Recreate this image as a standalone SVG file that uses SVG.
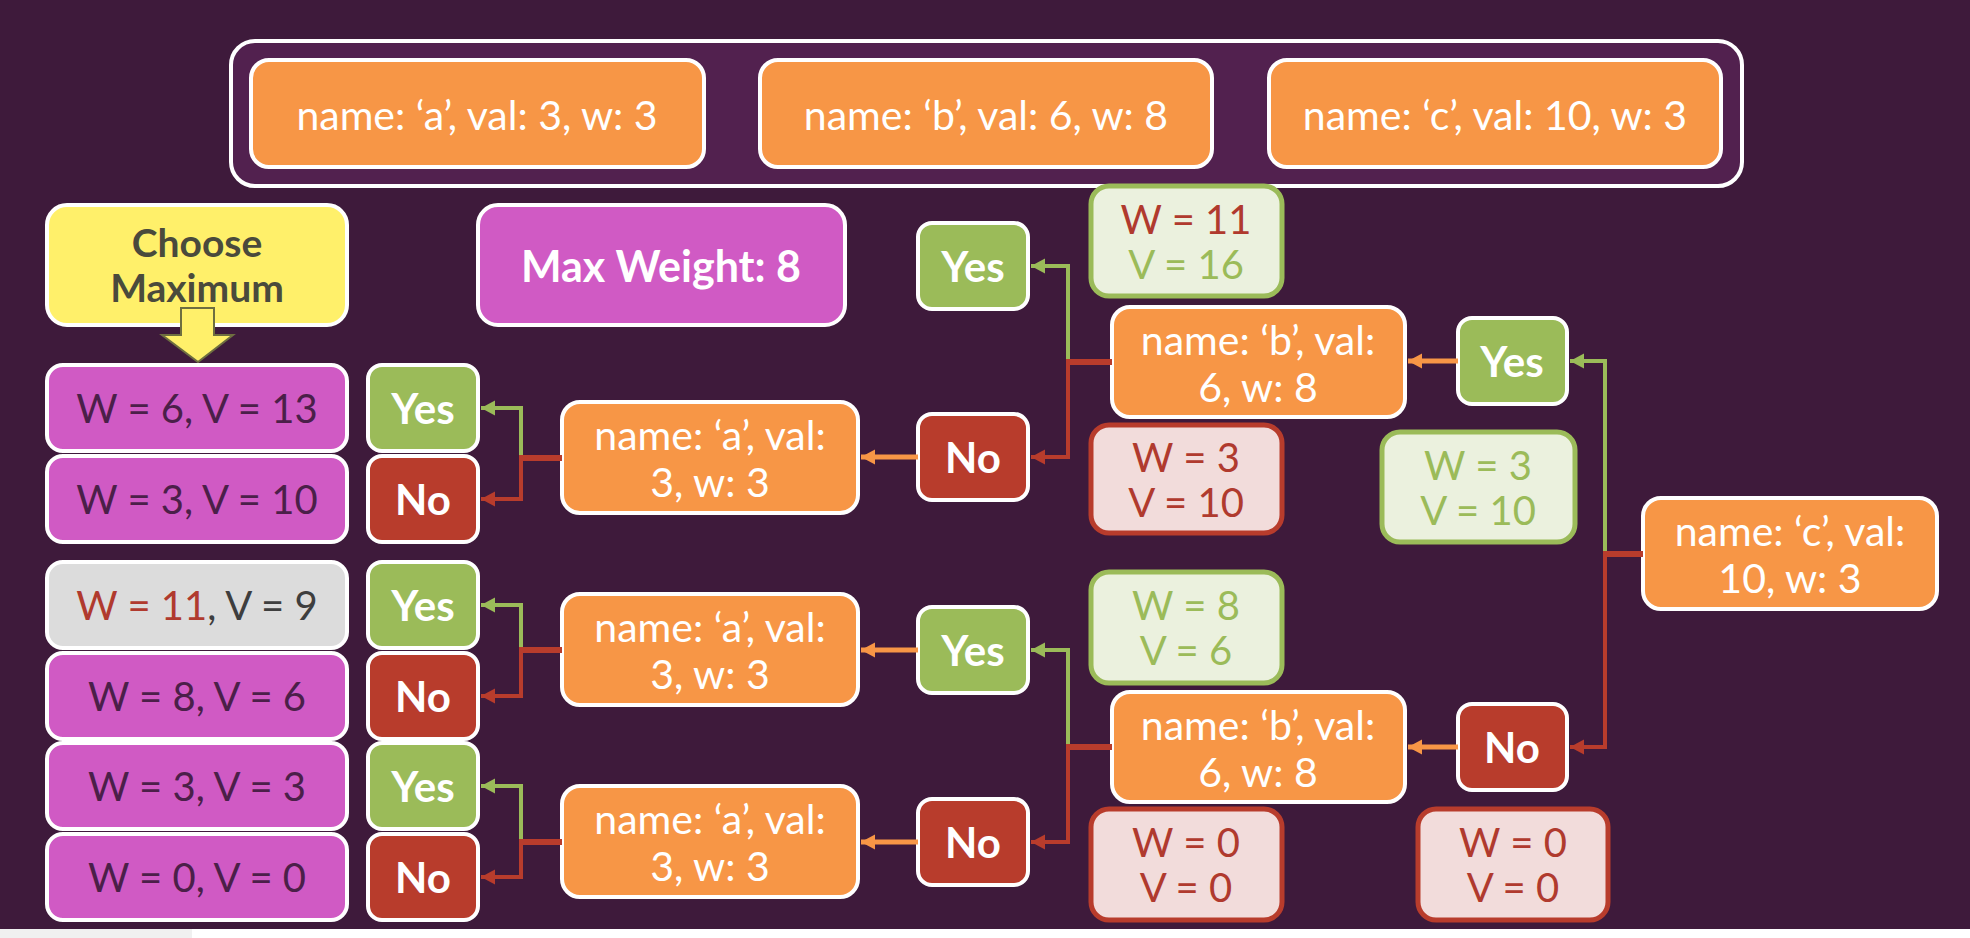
<svg xmlns="http://www.w3.org/2000/svg" width="1970" height="938" viewBox="0 0 1970 938">
<defs>
<style>
.bg{fill:#3e1a3b}
.box{stroke:#ffffff;stroke-width:4}
.orange{fill:#f79646}
.mag{fill:#d05ac4}
.gray{fill:#dcdcdc}
.yes{fill:#9bbb59}
.no{fill:#b83c2c}
.lg{fill:#ebf1de;stroke:#9bbb59;stroke-width:5}
.lr{fill:#f2dcdb;stroke:#b83c2c;stroke-width:5}
text{font-family:Lato,"Liberation Sans",sans-serif;text-anchor:middle;dominant-baseline:central}
.t{fill:#ffffff;font-size:41px}
.tb{fill:#ffffff;font-size:42px;font-weight:bold}
.tm{fill:#4b1f49;font-size:40px}
.tr{fill:#b03a2e;font-size:40px}
.tg{fill:#9bbb59;font-size:40px}
.cg{fill:none;stroke:#9bbb59;stroke-width:4}
.cr{fill:none;stroke:#b83c2c;stroke-width:4}
.cs{fill:none;stroke:#b83c2c;stroke-width:6}
.co{fill:none;stroke:#f79646;stroke-width:5}
</style>
<marker id="ag" markerUnits="userSpaceOnUse" markerWidth="16" markerHeight="16" refX="14" refY="8" orient="auto"><path d="M0,0.5 L14,8 L0,15.5 z" fill="#9bbb59"/></marker>
<marker id="ar" markerUnits="userSpaceOnUse" markerWidth="16" markerHeight="16" refX="14" refY="8" orient="auto"><path d="M0,0.5 L14,8 L0,15.5 z" fill="#b83c2c"/></marker>
<marker id="ao" markerUnits="userSpaceOnUse" markerWidth="16" markerHeight="16" refX="14" refY="8" orient="auto"><path d="M0,0.5 L14,8 L0,15.5 z" fill="#f79646"/></marker>
</defs>
<rect class="bg" x="0" y="0" width="1970" height="938"/>
<rect x="0" y="929" width="1970" height="9" fill="#ffffff"/>
<rect x="0" y="929" width="192" height="9" fill="#f0f0f0"/>

<g id="items">
<rect x="231" y="41" width="1511" height="145" rx="24" fill="#52214f" stroke="#ffffff" stroke-width="4"/>
<g id="item-a"><rect class="box orange" x="251" y="60" width="453" height="107" rx="18"/><text class="t" x="477" y="114">name: ‘a’, val: 3, w: 3</text></g>
<g id="item-b"><rect class="box orange" x="760" y="60" width="452" height="107" rx="18"/><text class="t" x="986" y="114">name: ‘b’, val: 6, w: 8</text></g>
<g id="item-c"><rect class="box orange" x="1269" y="60" width="452" height="107" rx="18"/><text class="t" x="1495" y="114">name: ‘c’, val: 10, w: 3</text></g>
</g>

<g id="choose">
<rect class="box" x="47" y="205" width="300" height="120" rx="20" fill="#fff06a"/>
<text x="197" y="242" font-size="39" font-weight="bold" fill="#4a4a3c">Choose</text>
<text x="197" y="287" font-size="39" font-weight="bold" fill="#4a4a3c">Maximum</text>
<polygon points="181,308 214,308 214,335 233,335 198,362 162,335 181,335" fill="#fff06a" stroke="#6e6e40" stroke-width="2"/>
</g>

<g id="maxweight"><rect class="box mag" x="478" y="205" width="367" height="120" rx="20"/><text class="tb" x="661" y="265" style="font-size:43px">Max Weight: 8</text></g>

<g id="r1"><rect class="box mag" x="47" y="365" width="300" height="86" rx="16"/><text class="tm" x="197" y="408">W = 6, V = 13</text></g>
<g id="r2"><rect class="box mag" x="47" y="456" width="300" height="86" rx="16"/><text class="tm" x="197" y="499">W = 3, V = 10</text></g>
<g id="r3"><rect class="box gray" x="47" y="562" width="300" height="86" rx="16"/><text x="197" y="605" font-size="40"><tspan fill="#b03a2e">W = 11</tspan><tspan fill="#3e3e3e">, V = 9</tspan></text></g>
<g id="r4"><rect class="box mag" x="47" y="653" width="300" height="86" rx="16"/><text class="tm" x="197" y="696">W = 8, V = 6</text></g>
<g id="r5"><rect class="box mag" x="47" y="743" width="300" height="86" rx="16"/><text class="tm" x="197" y="786">W = 3, V = 3</text></g>
<g id="r6"><rect class="box mag" x="47" y="834" width="300" height="86" rx="16"/><text class="tm" x="197" y="877">W = 0, V = 0</text></g>

<g id="y1"><rect class="box yes" x="368" y="365" width="110" height="86" rx="14"/><text class="tb" x="423" y="408">Yes</text></g>
<g id="n1"><rect class="box no" x="368" y="456" width="110" height="86" rx="14"/><text class="tb" x="423" y="499">No</text></g>
<g id="y2"><rect class="box yes" x="368" y="562" width="110" height="86" rx="14"/><text class="tb" x="423" y="605">Yes</text></g>
<g id="n2"><rect class="box no" x="368" y="653" width="110" height="86" rx="14"/><text class="tb" x="423" y="696">No</text></g>
<g id="y3"><rect class="box yes" x="368" y="743" width="110" height="86" rx="14"/><text class="tb" x="423" y="786">Yes</text></g>
<g id="n3"><rect class="box no" x="368" y="834" width="110" height="86" rx="14"/><text class="tb" x="423" y="877">No</text></g>

<g id="a1"><rect class="box orange" x="562" y="402" width="296" height="111" rx="18"/><text class="t" x="710" y="434">name: ‘a’, val:</text><text class="t" x="710" y="481">3, w: 3</text></g>
<g id="a2"><rect class="box orange" x="562" y="594" width="296" height="111" rx="18"/><text class="t" x="710" y="626">name: ‘a’, val:</text><text class="t" x="710" y="673">3, w: 3</text></g>
<g id="a3"><rect class="box orange" x="562" y="786" width="296" height="111" rx="18"/><text class="t" x="710" y="818">name: ‘a’, val:</text><text class="t" x="710" y="865">3, w: 3</text></g>

<g id="my1"><rect class="box yes" x="918" y="223" width="110" height="86" rx="14"/><text class="tb" x="973" y="266">Yes</text></g>
<g id="mn1"><rect class="box no" x="918" y="414" width="110" height="86" rx="14"/><text class="tb" x="973" y="457">No</text></g>
<g id="my2"><rect class="box yes" x="918" y="607" width="110" height="86" rx="14"/><text class="tb" x="973" y="650">Yes</text></g>
<g id="mn2"><rect class="box no" x="918" y="799" width="110" height="86" rx="14"/><text class="tb" x="973" y="842">No</text></g>

<g id="b1"><rect class="box orange" x="1112" y="307" width="293" height="110" rx="18"/><text class="t" x="1258" y="339">name: ‘b’, val:</text><text class="t" x="1258" y="386">6, w: 8</text></g>
<g id="b2"><rect class="box orange" x="1112" y="692" width="293" height="110" rx="18"/><text class="t" x="1258" y="724">name: ‘b’, val:</text><text class="t" x="1258" y="771">6, w: 8</text></g>

<g id="ry"><rect class="box yes" x="1458" y="318" width="109" height="86" rx="14"/><text class="tb" x="1512" y="361">Yes</text></g>
<g id="rn"><rect class="box no" x="1458" y="704" width="109" height="86" rx="14"/><text class="tb" x="1512" y="747">No</text></g>

<g id="c"><rect class="box orange" x="1643" y="498" width="294" height="111" rx="18"/><text class="t" x="1790" y="530">name: ‘c’, val:</text><text class="t" x="1790" y="577">10, w: 3</text></g>

<g id="wv1"><rect class="lg" x="1091" y="186" width="191" height="110" rx="18"/><text class="tr" x="1186" y="219">W = 11</text><text class="tg" x="1186" y="264">V = 16</text></g>
<g id="wv2"><rect class="lr" x="1091" y="425" width="191" height="108" rx="18"/><text class="tr" x="1186" y="457">W = 3</text><text class="tr" x="1186" y="502">V = 10</text></g>
<g id="wv3"><rect class="lg" x="1382" y="432" width="193" height="110" rx="18"/><text class="tg" x="1478" y="465">W = 3</text><text class="tg" x="1478" y="510">V = 10</text></g>
<g id="wv4"><rect class="lg" x="1091" y="572" width="191" height="111" rx="18"/><text class="tg" x="1186" y="605">W = 8</text><text class="tg" x="1186" y="650">V = 6</text></g>
<g id="wv5"><rect class="lr" x="1091" y="809" width="191" height="111" rx="18"/><text class="tr" x="1186" y="842">W = 0</text><text class="tr" x="1186" y="887">V = 0</text></g>
<g id="wv6"><rect class="lr" x="1418" y="809" width="190" height="111" rx="18"/><text class="tr" x="1513" y="842">W = 0</text><text class="tr" x="1513" y="887">V = 0</text></g>

<g id="connectors">
<path class="cg" d="M521,458 V408 H481" marker-end="url(#ag)"/>
<path class="cr" d="M521,458 V499 H481" marker-end="url(#ar)"/>
<path class="cs" d="M562,458 H519"/>
<path class="cg" d="M521,650 V605 H481" marker-end="url(#ag)"/>
<path class="cr" d="M521,650 V696 H481" marker-end="url(#ar)"/>
<path class="cs" d="M562,650 H519"/>
<path class="cg" d="M521,842 V786 H481" marker-end="url(#ag)"/>
<path class="cr" d="M521,842 V877 H481" marker-end="url(#ar)"/>
<path class="cs" d="M562,842 H519"/>
<path class="co" d="M918,457 H861" marker-end="url(#ao)"/>
<path class="co" d="M918,650 H861" marker-end="url(#ao)"/>
<path class="co" d="M918,842 H861" marker-end="url(#ao)"/>
<path class="cg" d="M1068,362 V266 H1031" marker-end="url(#ag)"/>
<path class="cr" d="M1068,362 V457 H1031" marker-end="url(#ar)"/>
<path class="cs" d="M1112,362 H1066"/>
<path class="cg" d="M1068,747 V650 H1031" marker-end="url(#ag)"/>
<path class="cr" d="M1068,747 V842 H1031" marker-end="url(#ar)"/>
<path class="cs" d="M1112,747 H1066"/>
<path class="co" d="M1458,361 H1408" marker-end="url(#ao)"/>
<path class="co" d="M1458,747 H1408" marker-end="url(#ao)"/>
<path class="cg" d="M1605,554 V361 H1570" marker-end="url(#ag)"/>
<path class="cr" d="M1605,554 V747 H1570" marker-end="url(#ar)"/>
<path class="cs" d="M1643,554 H1603"/>
</g>
</svg>
